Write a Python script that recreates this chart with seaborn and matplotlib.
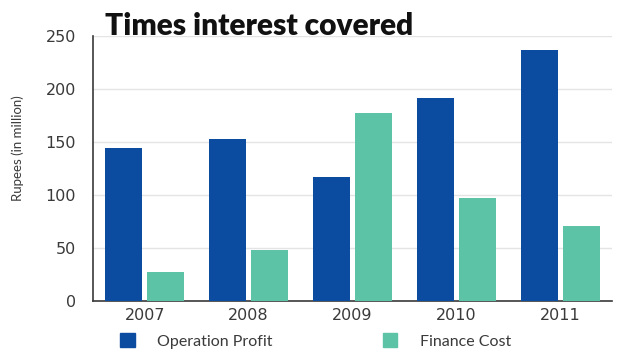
import numpy as np
import pandas as pd
import seaborn as sns
import matplotlib
matplotlib.use("Agg")
import matplotlib.pyplot as plt
from matplotlib.ticker import FixedLocator

years = ["2007", "2008", "2009", "2010", "2011"]
operation_profit = [144, 153, 117, 192, 237]
finance_cost = [27, 48, 177, 97, 71]
series_names = ["Operation Profit", "Finance Cost"]
y_ticks = [0, 50, 100, 150, 200, 250]

df = pd.DataFrame({
    "Year": years * 2,
    "Value": operation_profit + finance_cost,
    "Series": [series_names[0]] * len(years) + [series_names[1]] * len(years),
})

sns.set_theme(style="white")
plt.rcParams["font.family"] = ["Lato", "DejaVu Sans"]

blue = "#0b4ca1"
teal = "#5cc3a7"
text_gray = "#3a3a3a"

fig = plt.figure(figsize=(6.19, 3.53), dpi=100)
ax = fig.add_axes([0.150, 0.147, 0.839, 0.751])

sns.barplot(data=df, x="Year", y="Value", hue="Series", hue_order=series_names,
            palette=[blue, teal], width=0.81, gap=0.12, saturation=1,
            edgecolor="none", ax=ax, legend=False, zorder=3)

ax.set_xlim(-0.5, len(years) - 0.5)
ax.set_ylim(0, 250)
ax.set_yticks(y_ticks)
ax.yaxis.grid(True, color="#e4e4e4", linewidth=1.0, zorder=0)
ax.set_axisbelow(True)

for s in ["top", "right"]:
    ax.spines[s].set_visible(False)
for s in ["left", "bottom"]:
    ax.spines[s].set_color(text_gray)
    ax.spines[s].set_linewidth(1.2)

# category separators as minor ticks on the x axis
ax.xaxis.set_minor_locator(FixedLocator(np.arange(-0.5, len(years), 1.0)))
ax.tick_params(axis="x", which="major", length=0, pad=5, colors=text_gray)
ax.tick_params(axis="x", which="minor", length=5, width=1.1, color=text_gray, direction="out")
ax.tick_params(axis="y", length=8, width=1.1, color=text_gray, direction="out",
               labelcolor=text_gray, pad=4)
for lbl in ax.get_xticklabels() + ax.get_yticklabels():
    lbl.set_fontfamily("DejaVu Sans")
    lbl.set_fontsize(11.5)

ax.set_xlabel("")
ax.set_ylabel("Rupees (in million)", fontsize=9.5, color=text_gray)
ax.yaxis.set_label_coords(-0.133, 0.577)

fig.text(0.170, 0.925, "Times interest covered", fontsize=21.5, fontweight="heavy",
         color="#111111", ha="left", va="center")

handles = [plt.Rectangle((0, 0), 1, 1, color=blue), plt.Rectangle((0, 0), 1, 1, color=teal)]
fig.legend(handles, series_names, loc="center", bbox_to_anchor=(0.51, 0.034), ncol=2,
           frameon=False, fontsize=11.5, handlelength=0.9, handleheight=0.9,
           handletextpad=1.4, columnspacing=6.9, labelcolor=text_gray)

fig.savefig("out.png", dpi=100)
